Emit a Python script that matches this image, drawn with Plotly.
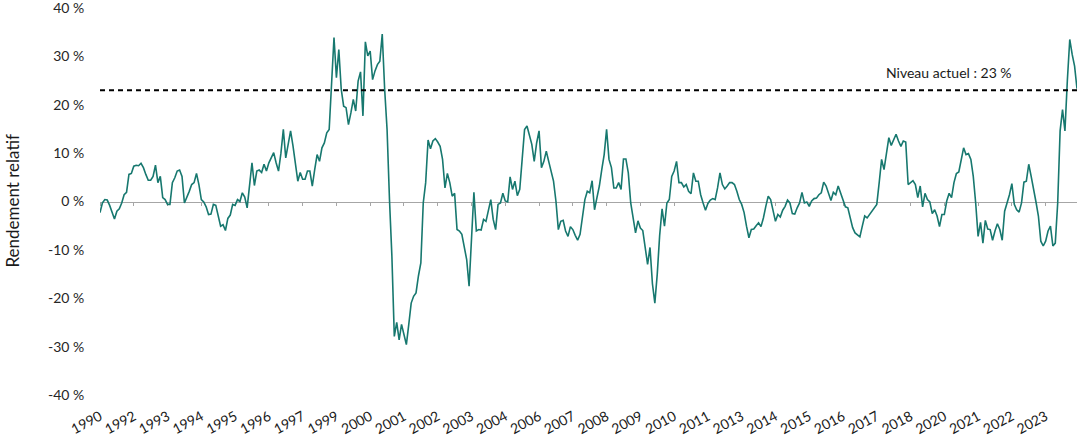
import pandas as pd
import plotly.graph_objects as go

# relative return, monthly, first month Nov 1990 (in %)
rel_return = [
    -2.3, -0.3, 0.4, 0.3, -0.8, -2.3, -3.6, -2.0, -1.5, -0.3,
    1.4, 1.9, 5.6, 5.8, 7.3, 7.5, 7.4, 7.9, 7.0, 5.6,
    4.4, 4.4, 5.2, 7.5, 3.9, 5.2, 0.8, 0.4, -0.6, -0.6,
    3.9, 4.9, 6.3, 6.5, 5.2, -0.3, 0.8, 2.1, 3.5, 3.9,
    5.8, 3.5, 0.4, -0.1,
    -1.1, -2.7, -2.6, -0.6, -0.8, -3.0, -5.1, -4.8, -6.0, -3.5,
    -2.8, -0.6, -0.8, 0.4, 0.0, 1.8, 0.9, -1.3, 3.5, 8.0,
    3.3, 6.3, 6.5, 6.0, 7.7, 6.3, 8.0, 9.0, 10.1,
    8.0, 6.3, 10.0, 14.9, 9.0, 12.0, 14.6, 11.5, 8.0, 4.2,
    6.0, 4.6, 4.6, 6.3,
    6.3, 3.2, 6.6, 9.7, 8.3, 11.1, 12.1, 14.2, 14.9, 23.9,
    33.9, 25.6, 31.4, 23.2, 19.7, 19.4, 15.9, 18.3, 21.1, 18.7,
    24.9, 26.8, 17.7, 33.0, 30.1, 31.1, 25.2, 27.0, 28.3, 29.0,
    34.6, 23.2, 14.9, 0.4, -11.3, -27.9, -25.0, -28.6, -25.4, -27.5,
    -29.6, -25.4, -21.0, -19.6, -18.9, -15.4, -12.7,
    -0.3, 3.9, 12.7, 10.9, 12.5, 13.0, 12.3, 11.4, 8.7, 2.8,
    5.8, 3.9, 1.1, 1.7, -5.8, -6.1, -6.8, -9.2, -12.0, -17.5,
    -7.2, 1.9, -6.1, -5.8, -5.9, -3.7, -4.1, -2.0, 0.4, -3.7,
    -5.8, -0.6, -0.3, 1.7, 0.1, -0.1, 5.1, 2.5, 4.2, 1.2,
    2.5, 8.7, 14.9,
    15.6, 13.9, 11.8, 8.3, 12.1, 14.6, 7.0, 8.3, 10.4, 8.3,
    6.3, 4.2, 0.1, -5.8, -4.1, -3.9, -6.1, -7.2, -5.2, -5.8,
    -7.0, -8.0, -6.8, -3.4, 0.4, 2.1, 1.8, 4.3, -1.7,
    0.8, 3.2, 6.6, 9.7, 14.9, 8.7, 7.0, 2.8, 2.8, 3.9,
    2.5, 8.8, 8.8, 5.9, -0.3, -3.7, -6.5,
    -4.0, -5.5, -6.0, -10.0, -13.0, -9.5, -17.0, -21.0, -15.0, -7.0,
    -1.5, -5.1, -0.3, 0.4, 5.2, 6.3, 8.3, 3.9, 3.9, 3.0,
    3.5, 2.1, 1.6, 5.9, 4.2, 4.2, 1.4, -0.3, -1.8, -0.4,
    0.3, 0.6, 0.4, 2.8, 5.9, 3.5, 2.6, 3.2, 3.9, 3.9,
    3.5, 2.1,
    0.4, -0.6, -2.3, -5.1, -7.5, -5.8, -5.7, -5.0, -4.4, -5.2,
    -3.4, -1.0, 1.1, 0.4, -2.0, -4.1, -2.7, -3.2, -1.8, -1.0,
    0.3, -0.3, -2.5, -2.6, -1.3, -0.3, 1.9, -0.3, -0.1, -1.0,
    0.1, 0.6, 0.7, 1.4, 1.8, 4.0, 3.2, 1.8, 0.2, 1.9,
    1.4, 3.2, 1.7, 0.1, -1.1, -1.3,
    -3.5, -5.4, -6.5, -7.0, -7.3, -5.1, -3.0, -3.4, -2.7, -2.0,
    -1.3, -0.6, 3.9, 8.7, 6.6, 10.1, 13.2, 11.6, 12.8, 13.9,
    12.5, 11.4, 12.5, 12.3, 3.5, 3.9, 4.3, 3.5, 0.8, 3.2,
    -1.1, 1.7, 0.4, -0.1, -2.5, -1.7, -3.0, -5.2, -2.7,
    -2.7, 0.1, 1.7, 0.8,
    3.9, 5.8, 6.1, 9.0, 11.1, 9.7, 9.9, 8.7, 5.2, -0.3,
    -7.2, -4.3, -8.6, -3.9, -5.7, -5.8, -8.0, -6.1, -4.6, -5.8,
    -8.0, -2.0, -0.3, 1.4, 3.7, -0.6, -1.7, -2.2, -0.3, 4.0,
    4.2, 7.7, 5.2, 2.8, -0.1, -3.0, -8.2, -9.2, -8.2, -6.1,
    -5.1, -9.2, -8.6, -0.3, 14.6, 19.0, 14.6, 25.0, 33.5, 30.4,
    28.0, 23.3,
]
current_level = 23
months = pd.date_range("1990-11-01", periods=len(rel_return), freq="MS").strftime("%Y-%m").tolist()
label_every = 14
tick_months = months[::label_every]
tick_years = [m[:4] for m in tick_months]
y_ticks = [-40, -30, -20, -10, 0, 10, 20, 30, 40]
y_labels = [f"{v} %" for v in y_ticks]

teal = "#17786f"
grey = "#a6a6a6"
font = "Lato"
n_last = len(months) - 1

fig = go.Figure()
fig.add_trace(go.Scatter(
    x=months, y=[current_level] * len(months), xaxis="x2",
    mode="lines", line=dict(color="black", width=2, dash="5px,4px"),
    hoverinfo="skip", showlegend=False))
fig.add_trace(go.Scatter(
    x=months, y=rel_return, mode="lines",
    line=dict(color=teal, width=1.6), showlegend=False))

fig.update_layout(
    width=1080, height=442,
    margin=dict(l=100, r=3, t=8, b=47, autoexpand=False),
    paper_bgcolor="white", plot_bgcolor="white",
    font=dict(family=font, size=14, color="#262626"),
    xaxis=dict(type="category", range=[0, n_last], automargin=False,
               tickvals=tick_months, ticktext=tick_years, tickangle=-28,
               showgrid=False, showline=False, ticks="", zeroline=False,
               ticklabeloverflow="allow", ticklabelstandoff=10,
               tickfont=dict(size=14, color="#1a1a1a")),
    xaxis2=dict(type="category", overlaying="x", anchor="free",
                position=0.5, side="bottom", range=[0, n_last], automargin=False,
                tickvals=tick_months, showticklabels=False, showgrid=False,
                showline=True, linecolor=grey, linewidth=1, layer="below traces",
                ticks="outside", ticklen=3, tickcolor=grey, tickwidth=1),
    yaxis=dict(range=[-40, 40], tickvals=y_ticks, ticktext=y_labels, automargin=False,
               showgrid=False, zeroline=False, showline=False,
               ticks="outside", ticklen=12, tickcolor="rgba(0,0,0,0)",
               ticklabeloverflow="allow",
               tickfont=dict(size=14, color="#262626")),
    annotations=[
        dict(text="Niveau actuel : 23 %", xref="paper", yref="y",
             x=0.9355, y=current_level, xanchor="right", yanchor="bottom",
             yshift=7, showarrow=False, font=dict(size=14, color="#1a1a1a")),
        dict(text="Rendement relatif", xref="paper", yref="paper",
             x=-0.09, y=0.5, xanchor="center", yanchor="middle",
             textangle=-90, showarrow=False, font=dict(size=17, color="#1a1a1a")),
    ],
)

# page body has an 8px default margin; drop it so the figure fills the window
fig.write_html("out.html", config={"displayModeBar": False},
               post_script="document.body.style.margin='0';document.body.style.overflow='hidden';")
